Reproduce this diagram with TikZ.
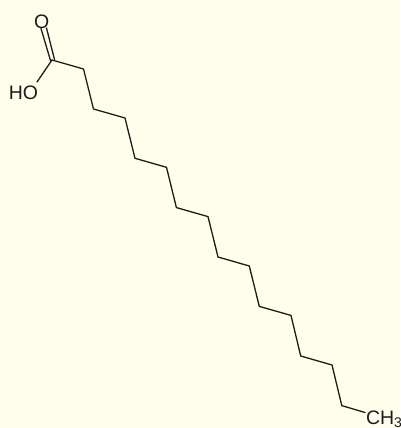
\documentclass[tikz,border=0pt]{standalone}
\usepackage{fontspec}
\setmainfont{Liberation Sans}
\definecolor{paper}{HTML}{FFFDEB}
\definecolor{ink}{HTML}{1C1C1C}
\tikzset{
  bond/.style={draw=ink,line width=1.3pt,line join=miter,line cap=round},
  atom/.style={inner sep=0pt,outer sep=0pt,text=ink,font=\fontsize{19.5}{19.5}\selectfont},
  vertex/.style={inner sep=0pt,outer sep=0pt,minimum size=0pt}
}
\begin{document}
\begin{tikzpicture}[x=1pt,y=-1pt]
\useasboundingbox (0,0) rectangle (400,428);
\fill[paper] (0,0) rectangle (400,428);
\node[atom] (O) at (41.7,21.5) {O};
\node[atom,anchor=center] (HO) at (23.5,93) {HO};
\node[atom,anchor=base west] (CH) at (366,424) {CH\raisebox{-3.5pt}{\fontsize{14}{14}\selectfont 3}};
\coordinate (c1) at (52,60);
\coordinate (c2) at (83.5,69);
\coordinate (c3) at (93.5,109);
\coordinate (c4) at (125,118);
\coordinate (c5) at (135,158.3);
\coordinate (c6) at (166.5,167.3);
\coordinate (c7) at (176.4,207.6);
\coordinate (c8) at (208,216.6);
\coordinate (c9) at (218,257);
\coordinate (c10) at (249.3,266);
\coordinate (c11) at (259.3,306.4);
\coordinate (c12) at (291,315.4);
\coordinate (c13) at (300.7,356);
\coordinate (c14) at (332,365);
\coordinate (c15) at (341.8,405.6);
\coordinate (e16) at (365,412.5);
\coordinate (o1) at (41,28.5);
\coordinate (o2) at (46.5,28);
\coordinate (c1a) at (50.5,60.5);
\coordinate (c1b) at (54.5,59.5);
\coordinate (h1) at (37,82);
\draw[bond] (o1) -- (c1a);
\draw[bond] (o2) -- (c1b);
\draw[bond] (h1) -- (c1) -- (c2) -- (c3) -- (c4) -- (c5) -- (c6) -- (c7) -- (c8) -- (c9) -- (c10) -- (c11) -- (c12) -- (c13) -- (c14) -- (c15) -- (e16);
\end{tikzpicture}
\end{document}
